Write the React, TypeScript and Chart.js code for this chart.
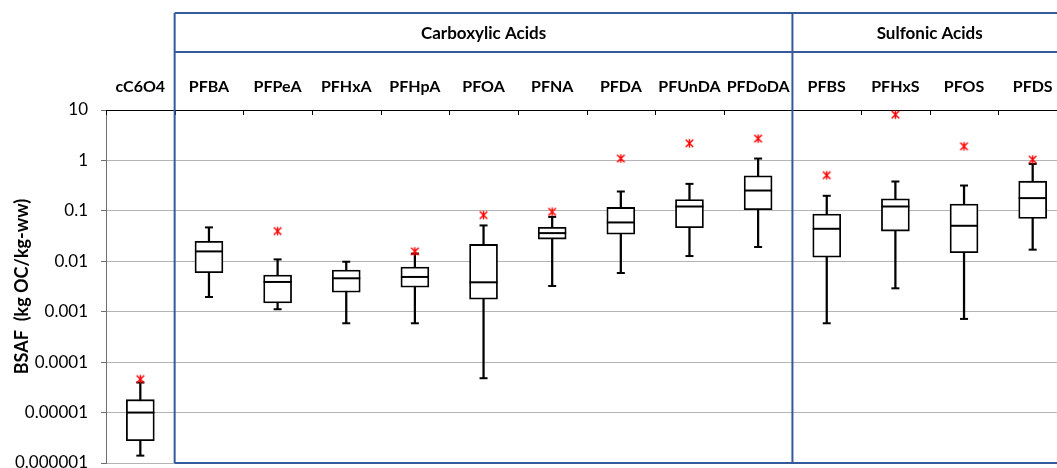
import React, { useEffect, useRef } from 'react';
import { Chart, registerables } from 'chart.js';

Chart.register(...registerables);

const CATEGORIES = ['cC6O4', 'PFBA', 'PFPeA', 'PFHxA', 'PFHpA', 'PFOA', 'PFNA', 'PFDA', 'PFUnDA', 'PFDoDA', 'PFBS', 'PFHxS', 'PFOS', 'PFDS'];
const MIN_VALUES = [1.4e-6, 0.00196, 0.00112, 0.00059, 0.00059, 4.8e-5, 0.00324, 0.00586, 0.0127, 0.0192, 0.00059, 0.00291, 0.00072, 0.017];
const Q1_VALUES = [2.77e-6, 0.00594, 0.00149, 0.00243, 0.00305, 0.00177, 0.0276, 0.0346, 0.0462, 0.105, 0.0121, 0.0397, 0.0148, 0.0707];
const MEDIAN_VALUES = [1e-5, 0.0157, 0.00389, 0.0046, 0.00489, 0.00383, 0.0362, 0.0589, 0.122, 0.253, 0.0441, 0.122, 0.0506, 0.179];
const Q3_VALUES = [1.8e-5, 0.0248, 0.00535, 0.0067, 0.0077, 0.0216, 0.047, 0.117, 0.168, 0.494, 0.0861, 0.173, 0.136, 0.388];
const MAX_VALUES = [3.95e-5, 0.047, 0.0109, 0.0098, 0.0142, 0.0514, 0.076, 0.242, 0.343, 1.09, 0.199, 0.382, 0.318, 0.853];
const OUTLIER_VALUES = [4.6e-5, null, 0.0397, null, 0.0157, 0.0824, 0.096, 1.09, 2.19, 2.71, 0.509, 8.08, 1.91, 1.04];

const Y_TICK_VALUES = [0.000001, 0.00001, 0.0001, 0.001, 0.01, 0.1, 1, 10];
const Y_TICK_LABELS = ['0.000001', '0.00001', '0.0001', '0.001', '0.01', '0.1', '1', '10'];

const GROUP_LABELS = ['Carboxylic Acids', 'Sulfonic Acids'];
const GROUP_FIRST = [1, 10];
const GROUP_LAST = [9, 13];

const Y_TITLE = 'BSAF  (kg OC/kg-ww)';

const FONT = 'Lato, "Open Sans", sans-serif';
const BLUE = '#35599A';

const CANVAS_W = 1070;
const CANVAS_H = 468;

function makeAsterisk(): HTMLCanvasElement {
  const c = document.createElement('canvas');
  const s = 11;
  c.width = s;
  c.height = s;
  const g = c.getContext('2d')!;
  g.strokeStyle = '#FF0000';
  g.lineWidth = 1.4;
  const m = s / 2;
  const r = 3.8;
  g.beginPath();
  g.moveTo(m - r, m - r);
  g.lineTo(m + r, m + r);
  g.moveTo(m + r, m - r);
  g.lineTo(m - r, m + r);
  g.moveTo(m, m - r - 0.5);
  g.lineTo(m, m + r + 0.5);
  g.stroke();
  return c;
}

const groupPlugin = {
  id: 'groupHeaders',
  afterDraw(chart: any) {
    const { ctx, chartArea, scales } = chart;
    const xs = scales.x;
    const n = CATEGORIES.length;
    const edge = (i: number) =>
      i <= 0 ? chartArea.left : i >= n ? chartArea.right : (xs.getPixelForValue(i - 1) + xs.getPixelForValue(i)) / 2;
    const px = (v: number) => Math.round(v) + 0.5;

    ctx.save();
    // inward tick marks on the top axis
    ctx.strokeStyle = '#000';
    ctx.lineWidth = 1;
    ctx.beginPath();
    for (let i = 0; i <= n; i++) {
      const x = px(edge(i));
      ctx.moveTo(x, chartArea.top);
      ctx.lineTo(x, chartArea.top + 5);
    }
    ctx.stroke();

    // group header boxes
    const top = 13;
    const mid = 52;
    const bottom = chartArea.bottom;
    ctx.strokeStyle = BLUE;
    ctx.lineWidth = 2;
    const left = edge(GROUP_FIRST[0]);
    const right = edge(GROUP_LAST[GROUP_LAST.length - 1] + 1);
    ctx.beginPath();
    ctx.moveTo(left, top);
    ctx.lineTo(right, top);
    ctx.moveTo(left, mid);
    ctx.lineTo(right, mid);
    ctx.moveTo(left, bottom);
    ctx.lineTo(right, bottom);
    for (let g = 0; g < GROUP_FIRST.length; g++) {
      const a = edge(GROUP_FIRST[g]);
      const b = edge(GROUP_LAST[g] + 1);
      ctx.moveTo(a, top);
      ctx.lineTo(a, bottom);
      ctx.moveTo(b, top);
      ctx.lineTo(b, bottom);
    }
    ctx.stroke();

    ctx.fillStyle = '#000';
    ctx.font = `bold 17px ${FONT}`;
    ctx.textAlign = 'center';
    ctx.textBaseline = 'middle';
    for (let g = 0; g < GROUP_LABELS.length; g++) {
      const a = edge(GROUP_FIRST[g]);
      const b = edge(GROUP_LAST[g] + 1);
      ctx.fillText(GROUP_LABELS[g], (a + b) / 2, (top + mid) / 2 + 1);
    }
    ctx.restore();
  },
};

export default function App() {
  const canvasRef = useRef<HTMLCanvasElement | null>(null);

  useEffect(() => {
    if (!canvasRef.current) return;
    const asterisk = makeAsterisk();
    const chart = new Chart(canvasRef.current, {
      type: 'bar',
      data: {
        labels: CATEGORIES,
        datasets: [
          {
            type: 'line',
            label: 'Outlier',
            data: OUTLIER_VALUES as any,
            showLine: false,
            pointStyle: asterisk as any,
            pointRadius: 5,
            order: 0,
          },
          {
            type: 'line',
            label: 'Median',
            data: MEDIAN_VALUES,
            showLine: false,
            pointStyle: 'line',
            pointRadius: 14,
            pointBorderWidth: 2,
            pointBorderColor: '#000',
            pointBackgroundColor: '#000',
            order: 1,
          },
          {
            type: 'line',
            label: 'Max',
            data: MAX_VALUES,
            showLine: false,
            pointStyle: 'line',
            pointRadius: 4,
            pointBorderWidth: 2,
            pointBorderColor: '#000',
            order: 2,
          },
          {
            type: 'line',
            label: 'Min',
            data: MIN_VALUES,
            showLine: false,
            pointStyle: 'line',
            pointRadius: 4,
            pointBorderWidth: 2,
            pointBorderColor: '#000',
            order: 2,
          },
          {
            type: 'bar',
            label: 'Box',
            data: Q1_VALUES.map((q, i) => [q, Q3_VALUES[i]]) as any,
            backgroundColor: '#FFFFFF',
            borderColor: '#000',
            borderWidth: 1.8,
            borderSkipped: false,
            barThickness: 28,
            grouped: false,
            order: 3,
          } as any,
          {
            type: 'bar',
            label: 'Whisker',
            data: MIN_VALUES.map((m, i) => [m, MAX_VALUES[i]]) as any,
            backgroundColor: '#000',
            borderWidth: 0,
            barThickness: 1.6,
            grouped: false,
            order: 4,
          } as any,
        ],
      },
      options: {
        animation: false,
        responsive: false,
        devicePixelRatio: 1,
        layout: { autoPadding: false, padding: { left: 0, right: 3, top: 0, bottom: 5 } },
        plugins: {
          legend: { display: false },
          tooltip: { enabled: false },
        },
        scales: {
          x: {
            type: 'category',
            position: 'top',
            offset: true,
            grid: { display: false, drawTicks: false },
            border: { display: true, color: '#000', width: 1 },
            ticks: {
              autoSkip: false,
              maxRotation: 0,
              padding: 14,
              color: '#000',
              font: { family: FONT, size: 16, weight: 'bold' },
            },
            afterFit: (scale: any) => {
              scale.height = 110;
              scale.paddingLeft = 0;
              scale.paddingRight = 0;
            },
          },
          y: {
            type: 'logarithmic',
            min: 0.000001,
            max: 10,
            afterBuildTicks: (scale: any) => {
              scale.ticks = Y_TICK_VALUES.map((v) => ({ value: v }));
            },
            afterFit: (scale: any) => {
              scale.width = 106;
              scale.paddingTop = 0;
              scale.paddingBottom = 0;
            },
            grid: {
              color: '#B4B4B4',
              lineWidth: 1,
              drawTicks: true,
              tickLength: 5,
              tickColor: '#6E6E6E',
            },
            border: { display: true, color: '#6E6E6E', width: 1 },
            ticks: {
              padding: 13,
              color: '#000',
              font: { family: FONT, size: 17 },
              callback: (value: any) => {
                const idx = Y_TICK_VALUES.findIndex((v) => Math.abs(Math.log10(v) - Math.log10(Number(value))) < 1e-6);
                return idx >= 0 ? Y_TICK_LABELS[idx] : '';
              },
            },
            title: {
              display: true,
              text: Y_TITLE,
              color: '#000',
              font: { family: FONT, size: 18, weight: 'bold' },
              padding: { top: 11, bottom: 0 },
            },
          },
        },
      },
      plugins: [groupPlugin],
    } as any);
    return () => chart.destroy();
  }, []);

  return (
    <div style={{ position: 'fixed', left: 0, top: 0, width: 1057, height: 468, overflow: 'hidden', background: '#fff' }}>
      <canvas ref={canvasRef} width={CANVAS_W} height={CANVAS_H} style={{ display: 'block', width: CANVAS_W, height: CANVAS_H }} />
    </div>
  );
}
